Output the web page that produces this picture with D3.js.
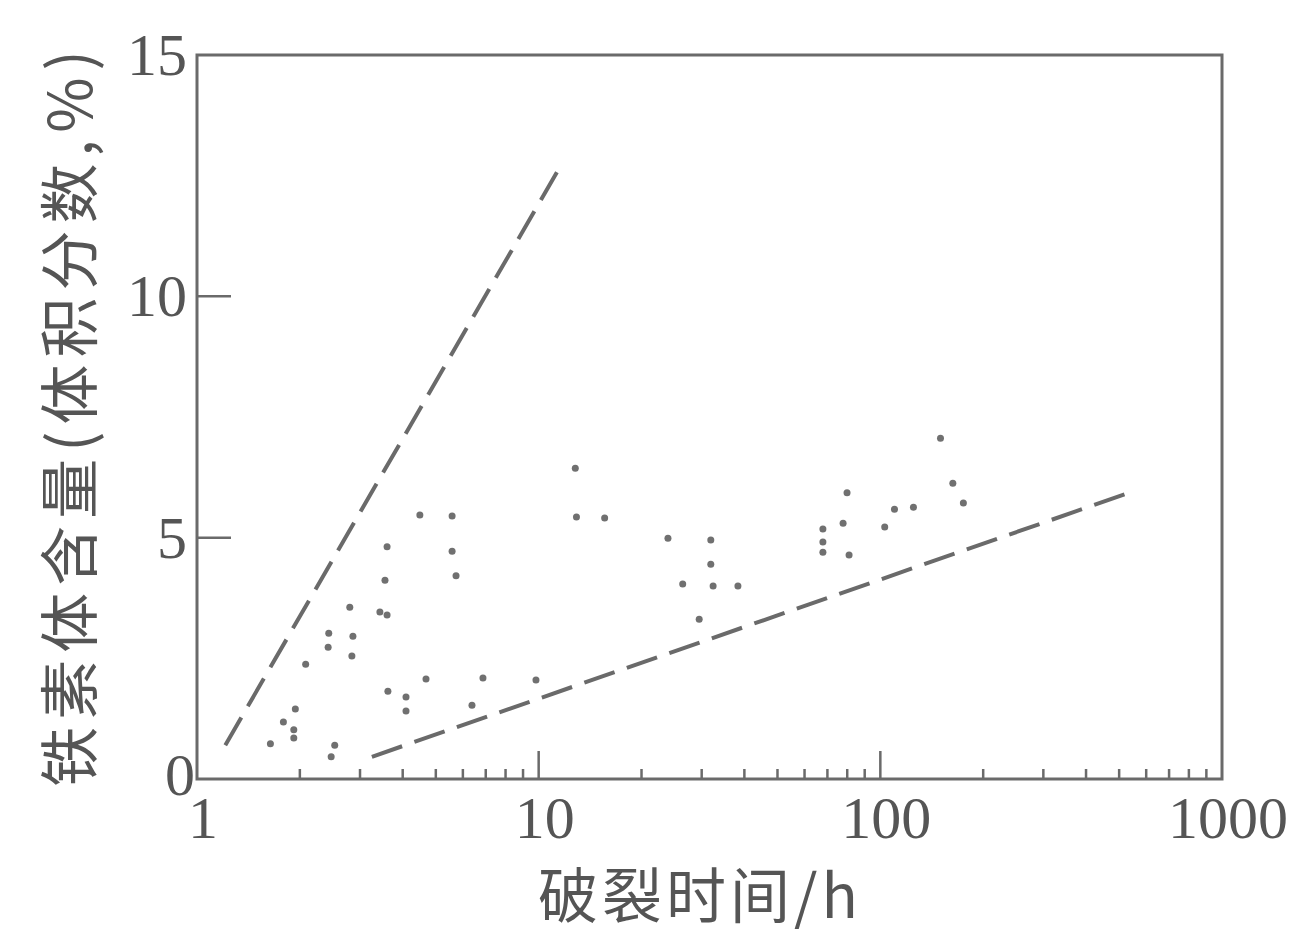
<!DOCTYPE html>
<html><head><meta charset="utf-8">
<script src="https://cdn.jsdelivr.net/npm/d3@7"></script>
<style>body{margin:0;background:#fff;} svg{display:block;}</style>
</head><body>
<svg id="c" width="1297" height="939"></svg>
<script>
// Data (rupture time h, ferrite content vol%)
const timeH = [4.49,5.58,3.60,5.58,3.55,5.73,2.80,3.43,3.60,2.43,2.86,2.42,2.84,2.08,4.68,6.87,3.62,4.09,4.09,6.38,1.94,1.79,1.92,1.92,1.64,2.53,2.47,9.82,
  12.8,12.9,15.6,23.9,31.9,31.9,26.4,32.4,38.3,29.5,150,79.9,163,175,110,125,67.9,77.8,103,67.9,67.9,81];
const ferrite = [5.47,5.45,4.81,4.72,4.12,4.21,3.56,3.46,3.40,3.02,2.96,2.73,2.55,2.38,2.07,2.09,1.82,1.70,1.41,1.53,1.45,1.18,1.02,0.85,0.73,0.70,0.46,2.05,
  6.44,5.43,5.41,4.99,4.95,4.45,4.04,4.00,4.00,3.31,7.06,5.93,6.13,5.72,5.59,5.63,5.18,5.30,5.22,4.91,4.70,4.64];
const upperLineX = [1.21, 11.5];
const upperLineY = [0.70, 12.66];
const lowerLineX = [3.25, 520];
const lowerLineY = [0.46, 5.9];
const xTickLabels = ["1","10","100","1000"];
const xTickValues = [1,10,100,1000];
const yTickValues = [0,5,10,15];
const yTickLabels = ["0","5","10","15"];
const xTitle = "破裂时间/h";
const yTitle = "铁素体含量(体积分数,%)";

const svg = d3.select("#c");
const L = 197, R = 1222, T = 55, B = 779;
const x = d3.scaleLog().domain([1,1000]).range([L,R]);
const y = d3.scaleLinear().domain([0,15]).range([B,T]);
const ink = "#6a6a6a", txt = "#555";

// minor ticks (inward from bottom)
const minor = [];
[1,10,100].forEach(d => { for (let k=2;k<=9;k++) minor.push(d*k); });
svg.append("g").selectAll("line").data(minor).join("line")
  .attr("x1", d=>x(d)).attr("x2", d=>x(d)).attr("y1", B).attr("y2", B-10)
  .attr("stroke", ink).attr("stroke-width", 2.5);
// major x ticks
svg.append("g").selectAll("line").data([10,100]).join("line")
  .attr("x1", d=>x(d)).attr("x2", d=>x(d)).attr("y1", B).attr("y2", B-28)
  .attr("stroke", ink).attr("stroke-width", 2.5);
// major y ticks
svg.append("g").selectAll("line").data([5,10]).join("line")
  .attr("x1", L).attr("x2", L+34).attr("y1", d=>y(d)).attr("y2", d=>y(d))
  .attr("stroke", ink).attr("stroke-width", 2.5);

// frame
svg.append("rect").attr("x", L).attr("y", T).attr("width", R-L).attr("height", B-T)
  .attr("fill","none").attr("stroke", ink).attr("stroke-width", 3);

// tick labels
svg.append("g").selectAll("text").data(xTickValues).join("text")
  .attr("x", d=> x(d) + 6).attr("y", 838)
  .attr("text-anchor","middle").attr("font-family","Liberation Serif").attr("font-size", 60)
  .attr("fill", txt).text((d,i)=>xTickLabels[i]);
svg.append("g").selectAll("text").data(yTickValues).join("text")
  .attr("x", (d)=> d===0 ? 195 : 187).attr("y", d=> y(d) + (d===0 ? 16 : 20))
  .attr("text-anchor","end").attr("font-family","Liberation Serif").attr("font-size", 60)
  .attr("fill", txt).text((d,i)=>yTickLabels[i]);

// dashed lines
const line = d3.line().x(d=>x(d[0])).y(d=>y(d[1]));
[[upperLineX, upperLineY],[lowerLineX, lowerLineY]].forEach(([xs, ys]) => {
  svg.append("path").datum(xs.map((v,i)=>[v, ys[i]]))
    .attr("d", line).attr("fill","none").attr("stroke", ink)
    .attr("stroke-width", 4).attr("stroke-dasharray","32,13");
});

// points
svg.append("g").selectAll("circle").data(timeH).join("circle")
  .attr("cx", d=>x(d)).attr("cy", (d,i)=>y(ferrite[i])).attr("r", 3.5)
  .attr("fill", "#707070");

// axis titles
svg.append("text").attr("x", 700).attr("y", 918).attr("text-anchor","middle")
  .attr("font-family","Noto Sans CJK SC").attr("font-size", 60).attr("letter-spacing", 4)
  .attr("fill", txt).text(xTitle);
svg.append("text").attr("transform","translate(92,415) rotate(-90)").attr("text-anchor","middle")
  .attr("font-family","Noto Sans CJK SC").attr("font-size", 60).attr("letter-spacing", 7)
  .attr("fill", txt).text(yTitle);
</script>
</body></html>
